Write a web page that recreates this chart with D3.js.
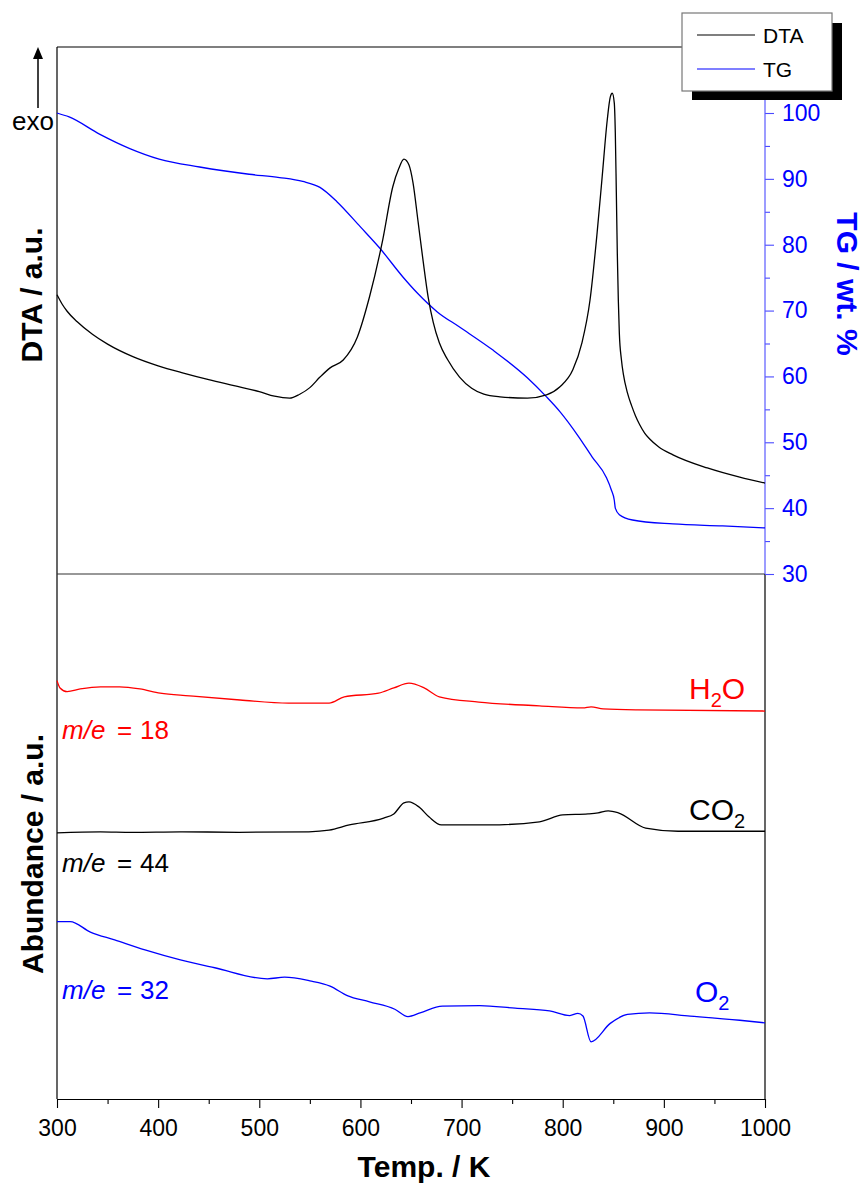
<!DOCTYPE html>
<html>
<head>
<meta charset="utf-8">
<script src="https://cdn.jsdelivr.net/npm/d3@7"></script>
<style>
  html, body { margin: 0; padding: 0; background: #fff; }
  svg { display: block; font-family: "Liberation Sans", Arial, Helvetica, sans-serif; }
</style>
</head>
<body>
<svg id="chart" width="867" height="1188"></svg>
<script>
// ---------- data ----------
const xTicksMajor = [300, 400, 500, 600, 700, 800, 900, 1000];
const xTicksMinor = [350, 450, 550, 650, 750, 850, 950];
const tgTicksMajor = [30, 40, 50, 60, 70, 80, 90, 100];
const tgTicksMinor = [35, 45, 55, 65, 75, 85, 95];

// DTA (a.u.) vs Temp (K)
const dtaData = [
  [300,72.4],[305,71.0],[310,69.9],[320,68.3],[335,66.4],[350,64.9],[375,63.0],[400,61.6],
  [425,60.5],[450,59.5],[475,58.6],[500,57.7],[515,57.0],[530,56.7],[540,57.3],[550,58.3],
  [560,59.9],[570,61.3],[583,62.5],[597,66.0],[609,72.1],[622,80.7],[632,88.8],[638,91.6],
  [643,93.0],[648,92.1],[652,89.4],[657,83.5],[662,77.5],[667,72.0],[672,68.2],[678,65.1],
  [686,62.6],[698,59.9],[710,58.2],[722,57.3],[738,56.9],[765,56.7],[784,57.2],[797,58.4],
  [810,61.0],[819,65.1],[827,71.6],[834,81.8],[839,90.3],[844,98.9],[847,102.4],[849,103.0],
  [851,101.5],[852,97.0],[853,88.0],[854,78.5],[855,71.5],[856,66.5],[858,62.6],[860,60.3],
  [864,57.5],[868,55.6],[872,54.0],[876,52.7],[881,51.4],[886,50.5],[895,49.3],[909,48.1],
  [943,46.1],[975,44.7],[1000,43.8]
];

// TG (wt. %) vs Temp (K)
const tgData = [
  [300,100.0],[312,99.4],[342,96.8],[372,94.6],[401,93.0],[441,91.8],[490,90.7],[520,90.2],
  [543,89.6],[560,88.7],[577,86.5],[600,82.7],[619,79.5],[642,75.1],[656,72.7],[676,69.8],
  [698,67.5],[731,64.0],[765,59.8],[784,56.9],[797,54.7],[816,50.8],[829,47.8],[843,44.7],
  [848,42.8],[851,41.2],[852,40.0],[856,39.0],[869,38.2],[909,37.6],[958,37.3],[1000,37.0]
];

// Mass spectrometer signals (a.u.)
const h2oData = [
  [300,79.7],[303,78.3],[310,77.6],[323,78.1],[343,78.5],[362,78.5],[382,78.1],[402,77.3],
  [431,76.8],[481,76.0],[529,75.4],[569,75.4],[584,76.6],[618,77.3],[633,78.3],[648,79.2],
  [663,78.3],[678,76.6],[717,75.6],[777,74.9],[820,74.5],[828,74.7],[840,74.3],[874,74.1],[1000,73.9]
];
const co2Data = [
  [300,50.7],[343,50.9],[374,50.8],[422,50.9],[480,50.8],[549,50.9],[569,51.2],[589,52.2],
  [623,53.5],[633,54.3],[643,56.4],[648,56.6],[658,55.6],[668,53.7],[680,52.2],[727,52.2],
  [777,52.8],[800,54.1],[825,54.3],[835,54.5],[845,54.9],[855,54.5],[882,51.6],[914,51.0],[1000,51.0]
];
const o2Data = [
  [300,33.8],[313,33.8],[333,31.8],[357,30.3],[387,28.4],[422,26.5],[456,25.0],[508,22.9],
  [525,23.2],[550,22.5],[570,21.5],[587,19.7],[609,18.5],[634,17.1],[647,15.7],[659,16.4],
  [681,17.7],[718,17.8],[753,17.3],[787,16.8],[807,15.9],[815,16.3],[820,15.8],[828,10.9],
  [847,14.4],[864,16.1],[886,16.4],[926,15.8],[975,15.0],[1000,14.5]
];

const legendItems = [ { label: "DTA", color: "#000000" }, { label: "TG", color: "#0000ff" } ];

// ---------- layout ----------
const svg = d3.select("#chart");
const L = 57, R = 765, T = 47, MID = 574, B = 1099;

const x = d3.scaleLinear().domain([300, 1000]).range([L, R]);
const yTG = d3.scaleLinear().domain([30, 100]).range([MID, 113]);
const yDTA = d3.scaleLinear().domain([30, 100]).range([MID, 113]);
const yMS = d3.scaleLinear().domain([0, 100]).range([B, MID]);

const FONT = "'Liberation Sans', Arial, Helvetica, sans-serif";

// frame
const frame = svg.append("g").attr("fill", "none").attr("stroke-width", 1.2);
frame.append("line").attr("x1", L).attr("x2", L).attr("y1", T).attr("y2", B).attr("stroke", "#000");
frame.append("line").attr("x1", L).attr("x2", R).attr("y1", T).attr("y2", T).attr("stroke", "#000");
frame.append("line").attr("x1", L).attr("x2", R).attr("y1", MID).attr("y2", MID).attr("stroke", "#333");
frame.append("line").attr("x1", R).attr("x2", R).attr("y1", MID).attr("y2", B).attr("stroke", "#000");

// x axis
const xAxisMajor = d3.axisBottom(x).tickValues(xTicksMajor).tickSize(9).tickSizeOuter(0).tickPadding(12).tickFormat(d3.format("d"));
const xAxisMinor = d3.axisBottom(x).tickValues(xTicksMinor).tickSize(5).tickSizeOuter(0).tickFormat("");
const gx = svg.append("g").attr("transform", `translate(0,${B})`).call(xAxisMajor);
svg.append("g").attr("transform", `translate(0,${B})`).call(xAxisMinor).select(".domain").remove();
gx.select(".domain").attr("stroke", "#000").attr("stroke-width", 1.2);
svg.selectAll(".tick line").attr("stroke", "#000").attr("stroke-width", 1.1);
gx.selectAll("text").attr("font-size", 23).attr("font-family", FONT).attr("fill", "#000");

// right TG axis
const tgMajor = d3.axisRight(yTG).tickValues(tgTicksMajor).tickSize(9).tickSizeOuter(0).tickPadding(8).tickFormat(d3.format("d"));
const tgMinor = d3.axisRight(yTG).tickValues(tgTicksMinor).tickSize(5).tickSizeOuter(0).tickFormat("");
const gy = svg.append("g").attr("transform", `translate(${R},0)`).call(tgMajor);
const gy2 = svg.append("g").attr("transform", `translate(${R},0)`).call(tgMinor);
gy2.select(".domain").remove();
gy.select(".domain").remove();
svg.append("line").attr("x1", R).attr("x2", R).attr("y1", T).attr("y2", MID)
  .attr("stroke", "#5a5aff").attr("stroke-width", 1.2);
gy.selectAll(".tick line").attr("stroke", "#4a4aff").attr("stroke-width", 1.1);
gy2.selectAll(".tick line").attr("stroke", "#4a4aff").attr("stroke-width", 1.1);
gy.selectAll("text").attr("font-size", 23).attr("font-family", FONT).attr("fill", "#0000ff");

// curves
const line = (ys) => d3.line().x(d => x(d[0])).y(d => ys(d[1])).curve(d3.curveMonotoneX);
const curves = svg.append("g").attr("fill", "none").attr("stroke-width", 1.3).attr("stroke-linejoin", "round");
curves.append("path").datum(tgData).attr("d", line(yTG)).attr("stroke", "#0000ff");
curves.append("path").datum(dtaData).attr("d", line(yDTA)).attr("stroke", "#000");
curves.append("path").datum(h2oData).attr("d", line(yMS)).attr("stroke", "#ff0000");
curves.append("path").datum(co2Data).attr("d", line(yMS)).attr("stroke", "#000");
curves.append("path").datum(o2Data).attr("d", line(yMS)).attr("stroke", "#0000ff");

// axis titles
svg.append("text").attr("x", 424).attr("y", 1177).attr("text-anchor", "middle")
  .attr("font-size", 30).attr("font-weight", "bold").attr("fill", "#000").text("Temp. / K");
svg.append("text").attr("transform", "translate(42,295) rotate(-90)").attr("text-anchor", "middle")
  .attr("font-size", 30).attr("font-weight", "bold").attr("fill", "#000").text("DTA / a.u.");
svg.append("text").attr("transform", "translate(43,854) rotate(-90)").attr("text-anchor", "middle")
  .attr("font-size", 30).attr("font-weight", "bold").attr("fill", "#000").text("Abundance / a.u.");
svg.append("text").attr("transform", "translate(837,284) rotate(90)").attr("text-anchor", "middle")
  .attr("font-size", 30).attr("font-weight", "bold").attr("fill", "#0000ff").text("TG / wt. %");

// exo arrow
svg.append("line").attr("x1", 38).attr("x2", 38).attr("y1", 108).attr("y2", 56)
  .attr("stroke", "#000").attr("stroke-width", 1.5);
svg.append("path").attr("d", "M38,47 L33,59 L43,59 Z").attr("fill", "#000");
svg.append("text").attr("x", 12).attr("y", 130).attr("font-size", 26).attr("fill", "#000").text("exo");

// m/e labels
function meLabel(xp, yp, val, color) {
  const t = svg.append("text").attr("y", yp).attr("font-size", 26).attr("fill", color);
  t.append("tspan").attr("x", xp).attr("font-style", "italic").text("m/e");
  t.append("tspan").attr("x", xp + 55).text("=");
  t.append("tspan").attr("x", xp + 78).text(val);
}
meLabel(62, 739, "18", "#ff0000");
meLabel(62, 872, "44", "#000000");
meLabel(62, 999, "32", "#0000ff");

// species labels
function species(xp, yp, main, sub, tail, color) {
  const t = svg.append("text").attr("x", xp).attr("y", yp).attr("font-size", 30).attr("fill", color);
  t.append("tspan").text(main);
  t.append("tspan").attr("font-size", 20).attr("dy", 8).text(sub);
  if (tail) t.append("tspan").attr("dy", -8).text(tail);
}
species(689, 699, "H", "2", "O", "#ff0000");
species(689, 820, "CO", "2", null, "#000000");
species(695, 1002, "O", "2", null, "#0000ff");

// legend
const lg = svg.append("g");
lg.append("rect").attr("x", 692).attr("y", 23).attr("width", 150).attr("height", 77).attr("fill", "#000");
lg.append("rect").attr("x", 682).attr("y", 13).attr("width", 150).attr("height", 78)
  .attr("fill", "#fff").attr("stroke", "#777").attr("stroke-width", 1.2);
legendItems.forEach((d, i) => {
  const yy = 35 + i * 34;
  lg.append("line").attr("x1", 697).attr("x2", 755).attr("y1", yy).attr("y2", yy)
    .attr("stroke", d.color).attr("stroke-width", 1.2);
  lg.append("text").attr("x", 763).attr("y", yy + 8).attr("font-size", 21).attr("fill", "#000").text(d.label);
});
</script>
</body>
</html>
